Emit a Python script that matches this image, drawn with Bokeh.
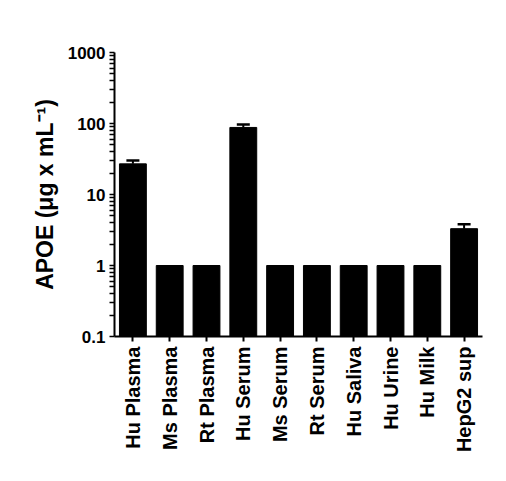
import math
from bokeh.plotting import figure
from bokeh.models import (ColumnDataSource, FactorRange, Whisker, TeeHead,
                          CustomJSTickFormatter, FixedTicker)
from bokeh.embed import file_html
from bokeh.resources import INLINE

categories = ["Hu Plasma", "Ms Plasma", "Rt Plasma", "Hu Serum", "Ms Serum",
              "Rt Serum", "Hu Saliva", "Hu Urine", "Hu Milk", "HepG2 sup"]
values = [27.0, 1.0, 1.0, 88.0, 1.0, 1.0, 1.0, 1.0, 1.0, 3.3]
errors = [3.0, 0.0, 0.0, 9.0, 0.0, 0.0, 0.0, 0.0, 0.0, 0.5]
y_ticks = [0.1, 1, 10, 100, 1000]
y_label = "APOE (\u03bcg x mL\u207b\u00b9)"

FONT = "Liberation Sans"

# all ticks (decades labelled, intermediate ones unlabelled)
minor = [m * d for d in y_ticks[:-1] for m in range(2, 10)]
all_ticks = sorted(y_ticks + minor)

p = figure(width=498, height=473, x_range=FactorRange(factors=categories, range_padding=0),
           y_axis_type="log", y_range=(0.1, 1000),
           output_backend="svg", toolbar_location=None,
           min_border_left=114, min_border_right=16, min_border_top=52, min_border_bottom=137)
p.outline_line_color = None
p.xgrid.grid_line_color = None
p.ygrid.grid_line_color = None
p.background_fill_color = "white"
p.border_fill_color = "white"

bars = ColumnDataSource(dict(cat=categories, val=values, bottom=[0.1] * len(values)))
p.vbar(x="cat", top="val", bottom="bottom", width=0.73, source=bars,
       fill_color="black", line_color="black", line_width=1)

ecat = [c for c, e in zip(categories, errors) if e > 0]
elow = [v for v, e in zip(values, errors) if e > 0]
eup = [v + e for v, e in zip(values, errors) if e > 0]
esrc = ColumnDataSource(dict(cat=ecat, low=elow, up=eup))
w = Whisker(base="cat", lower="low", upper="up", source=esrc,
            line_color="black", line_width=2,
            upper_head=TeeHead(size=13, line_color="black", line_width=2.5),
            lower_head=None)
p.add_layout(w)

# y axis
ya = p.yaxis[0]
ya.ticker = FixedTicker(ticks=all_ticks, minor_ticks=[])
ya.formatter = CustomJSTickFormatter(code="""
const l = Math.log10(tick);
if (Math.abs(l - Math.round(l)) > 1e-6) return "";
return tick >= 1 ? tick.toFixed(0) : tick.toFixed(1);
""")
ya.axis_label = y_label
ya.axis_label_text_font = FONT
ya.axis_label_text_font_style = "bold"
ya.axis_label_text_font_size = "23px"
ya.axis_label_text_color = "black"
ya.axis_label_standoff = 7
ya.major_label_text_font = FONT
ya.major_label_text_font_style = "bold"
ya.major_label_text_font_size = "17px"
ya.major_label_text_color = "black"
ya.major_label_standoff = 4
ya.axis_line_width = 2
ya.axis_line_color = "black"
ya.major_tick_line_width = 1.5
ya.major_tick_line_color = "black"
ya.major_tick_out = 5
ya.major_tick_in = 0
ya.minor_tick_line_color = None

xa = p.xaxis[0]
xa.major_label_orientation = math.pi / 2
xa.major_label_text_font = FONT
xa.major_label_text_font_style = "bold"
xa.major_label_text_font_size = "20px"
xa.major_label_text_color = "black"
xa.major_label_standoff = 5
xa.axis_line_width = 2
xa.axis_line_color = "black"
xa.major_tick_line_width = 2
xa.major_tick_out = 5
xa.major_tick_in = 0

open("out.html", "w").write(file_html(p, INLINE))
